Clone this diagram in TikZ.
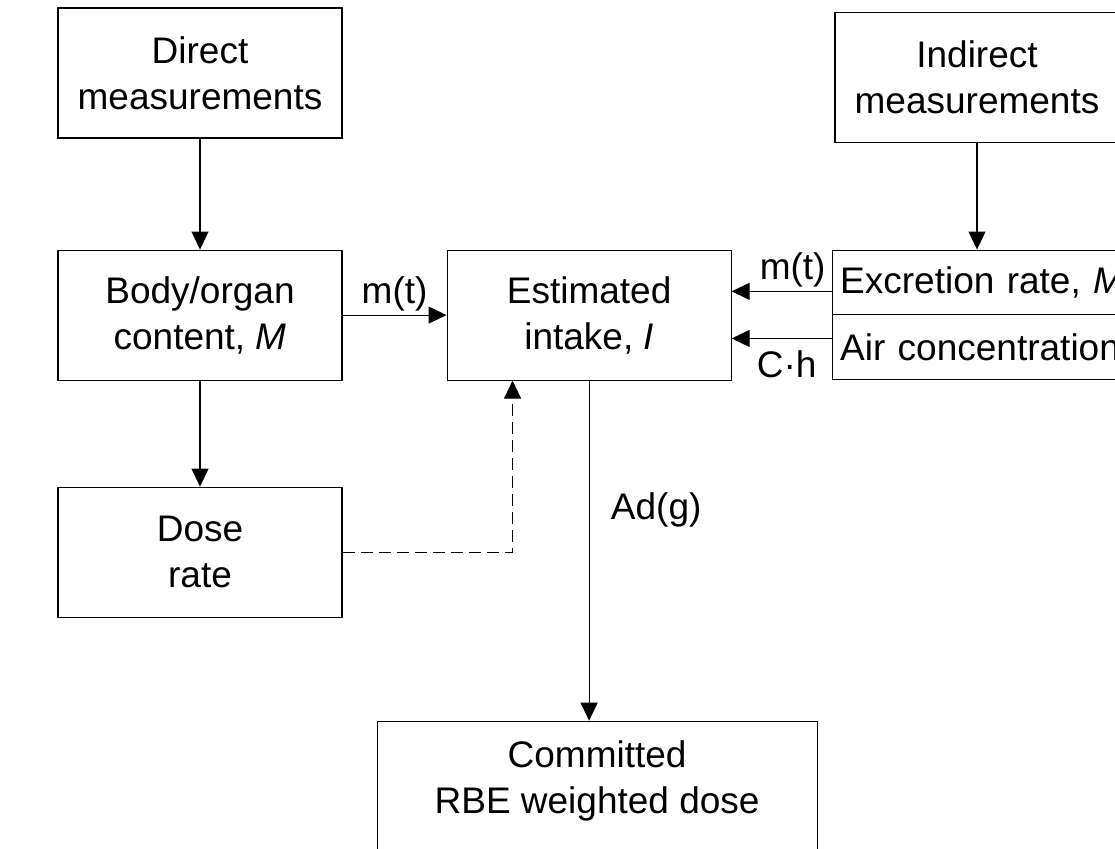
\documentclass[tikz,border=0pt]{standalone}
\usepackage{fontspec}
\setmainfont{Liberation Sans}
\usetikzlibrary{arrows.meta,positioning}

\begin{document}
\begin{tikzpicture}[->,>={Triangle[length=18pt,width=17pt]},x=1pt,y=-1pt,line width=1.1pt,font=\fontsize{37}{46}\selectfont]
\tikzstyle{block}=[draw=black,rectangle,minimum width=284pt,minimum height=130pt,align=center]
\tikzstyle{half}=[draw=black,rectangle,minimum height=64.5pt,text width=304pt,inner xsep=8pt,align=left]
\path[-,use as bounding box,clip] (0,0) rectangle (1115,848);
\node[block] (direct) at (200,73) {Direct\\measurements};
\node[block] (indirect) at (977,77.5) {Indirect\\measurements};
\node[block] (body) [below=111pt of direct] {Body/organ\\content, \textit{M}};
\node[block] (dose) [below=106pt of body] {Dose\\rate};
\node[block] (intake) [right=104pt of body] {Estimated\\intake, \textit{I}};
\node[half] (excr) [right=100pt of intake.north east,anchor=north west] {Excretion rate, \textit{M}};
\node[half] (air) [below=-1pt of excr] {Air concentration};
\node[block,minimum width=440pt,minimum height=136pt,text depth=24pt] (rbe) [below=340pt of intake,xshift=8pt] {Committed\\RBE weighted dose};
\path
(direct) edge (body)
(indirect) edge (indirect |- excr.north)
(body) edge node[above]{m(t)} (intake)
(body) edge (dose)
(intake) edge node[pos=0.38,right=18pt]{Ad(g)} (intake |- rbe.north)
([yshift=-9pt]excr.west) edge node[pos=0.39,above]{m(t)} ([yshift=-9pt]excr.west -| intake.east)
([yshift=8.5pt]air.west) edge node[pos=0.45,below=8pt]{C·h} ([yshift=8.5pt]air.west -| intake.east);
\draw[dashed,dash pattern=on 12pt off 6pt] (dose.east) -| ([xshift=66pt]intake.south west);
\end{tikzpicture}
\end{document}
